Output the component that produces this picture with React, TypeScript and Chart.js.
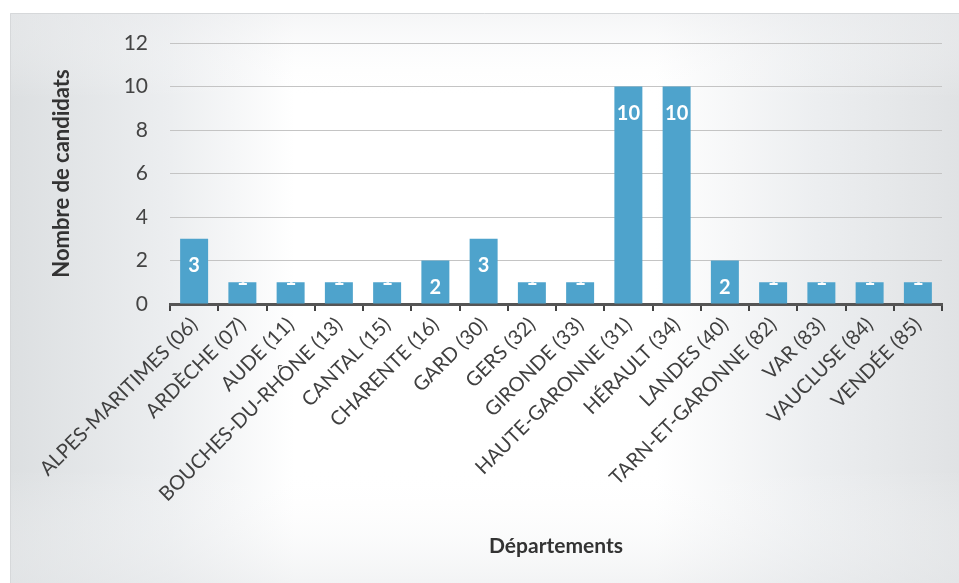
import React, { useEffect, useRef } from "react";
import { Chart, registerables } from "chart.js";

Chart.register(...registerables);

const categories = [
  "ALPES-MARITIMES (06)",
  "ARDÈCHE (07)",
  "AUDE (11)",
  "BOUCHES-DU-RHÔNE (13)",
  "CANTAL (15)",
  "CHARENTE (16)",
  "GARD (30)",
  "GERS (32)",
  "GIRONDE (33)",
  "HAUTE-GARONNE (31)",
  "HÉRAULT (34)",
  "LANDES (40)",
  "TARN-ET-GARONNE (82)",
  "VAR (83)",
  "VAUCLUSE (84)",
  "VENDÉE (85)",
];
const candidats = [3, 1, 1, 1, 1, 2, 3, 1, 1, 10, 10, 2, 1, 1, 1, 1];
const yTicks = [0, 2, 4, 6, 8, 10, 12];
const yTitle = "Nombre de candidats";
const xTitle = "Départements";

const FONT = "Lato, 'Open Sans', sans-serif";

const bgPlugin = {
  id: "scanBg",
  beforeDraw(chart: any) {
    const { ctx, width, height } = chart;
    ctx.save();
    ctx.fillStyle = "#ffffff";
    ctx.fillRect(0, 0, width, height);
    const g = ctx.createLinearGradient(10, 0, width, 0);
    g.addColorStop(0, "#dcdfe1");
    g.addColorStop(0.17, "#eceef0");
    g.addColorStop(0.3, "#ffffff");
    g.addColorStop(0.68, "#ffffff");
    g.addColorStop(0.85, "#eceef0");
    g.addColorStop(1, "#e0e2e4");
    ctx.fillStyle = g;
    ctx.fillRect(10, 13, width - 10, height - 13);
    const gv = ctx.createLinearGradient(0, 13, 0, height);
    gv.addColorStop(0, "rgba(235,236,238,0.5)");
    gv.addColorStop(0.15, "rgba(255,255,255,0)");
    gv.addColorStop(0.8, "rgba(255,255,255,0)");
    gv.addColorStop(1, "rgba(230,232,234,0.5)");
    ctx.fillStyle = gv;
    ctx.fillRect(10, 13, width - 10, height - 13);
    ctx.strokeStyle = "#d6d8da";
    ctx.lineWidth = 1;
    ctx.beginPath();
    ctx.moveTo(10.5, height);
    ctx.lineTo(10.5, 13.5);
    ctx.lineTo(width, 13.5);
    ctx.stroke();
    ctx.restore();
  },
};

const labelPlugin = {
  id: "barLabels",
  afterDatasetsDraw(chart: any) {
    const { ctx } = chart;
    const meta = chart.getDatasetMeta(0);
    ctx.save();
    ctx.fillStyle = "#ffffff";
    ctx.font = `bold 20px ${FONT}`;
    ctx.textAlign = "center";
    meta.data.forEach((bar: any, i: number) => {
      const v = candidats[i];
      if (v >= 2) {
        ctx.textBaseline = "middle";
        ctx.fillText(String(v), bar.x, bar.y + 27);
      } else {
        // the label does not fit: only its foot shows at the top of the bar
        ctx.save();
        ctx.beginPath();
        ctx.rect(bar.x - bar.width / 2, bar.y, bar.width, bar.base - bar.y);
        ctx.clip();
        ctx.textBaseline = "alphabetic";
        ctx.fillText(String(v), bar.x, bar.y + 3);
        ctx.restore();
      }
    });
    ctx.restore();
  },
};

export default function App() {
  const ref = useRef<HTMLCanvasElement | null>(null);
  useEffect(() => {
    document.body.style.margin = "0";
    const chart = new Chart(ref.current as HTMLCanvasElement, {
      type: "bar",
      data: {
        labels: categories,
        datasets: [
          {
            data: candidats,
            backgroundColor: "#4ea3cc",
            barPercentage: 0.58,
            categoryPercentage: 1,
          },
        ],
      },
      plugins: [bgPlugin, labelPlugin],
      options: {
        animation: false,
        responsive: false,
        devicePixelRatio: 1,
        layout: { padding: { top: 43, right: 17, bottom: 24, left: 20 } },
        plugins: { legend: { display: false }, tooltip: { enabled: false } },
        scales: {
          x: {
            grid: {
              offset: true,
              drawOnChartArea: false,
              drawTicks: true,
              tickLength: 7,
              color: "#444",
              lineWidth: 2,
            },
            border: { display: true, color: "#555", width: 3 },
            ticks: {
              minRotation: 45,
              maxRotation: 45,
              autoSkip: false,
              padding: 2,
              color: "#404040",
              font: { family: FONT, size: 20 },
            },
            title: {
              display: true,
              text: xTitle,
              color: "#333",
              font: { family: FONT, size: 21, weight: "bold" },
              padding: { top: 0, bottom: 0 },
            },
            afterFit(scale: any) {
              scale.height = 583 - 24 - 304;
            },
          },
          y: {
            min: 0,
            max: 12,
            afterBuildTicks(scale: any) {
              scale.ticks = yTicks.map((v) => ({ value: v }));
            },
            grid: { color: "#c4c4c4", lineWidth: 1, drawTicks: false },
            border: { display: false },
            ticks: {
              padding: 22,
              color: "#444",
              font: { family: FONT, size: 21 },
            },
            title: {
              display: true,
              text: yTitle,
              color: "#333",
              font: { family: FONT, size: 22, weight: "bold" },
              padding: { top: 29, bottom: 0 },
            },
            afterFit(scale: any) {
              scale.width = 170 - 20;
            },
          },
        },
      } as any,
    });
    return () => chart.destroy();
  }, []);
  return (
    <div style={{ position: "relative", width: 959, height: 583 }}>
      <canvas ref={ref} width={959} height={583} style={{ display: "block" }} />
    </div>
  );
}
